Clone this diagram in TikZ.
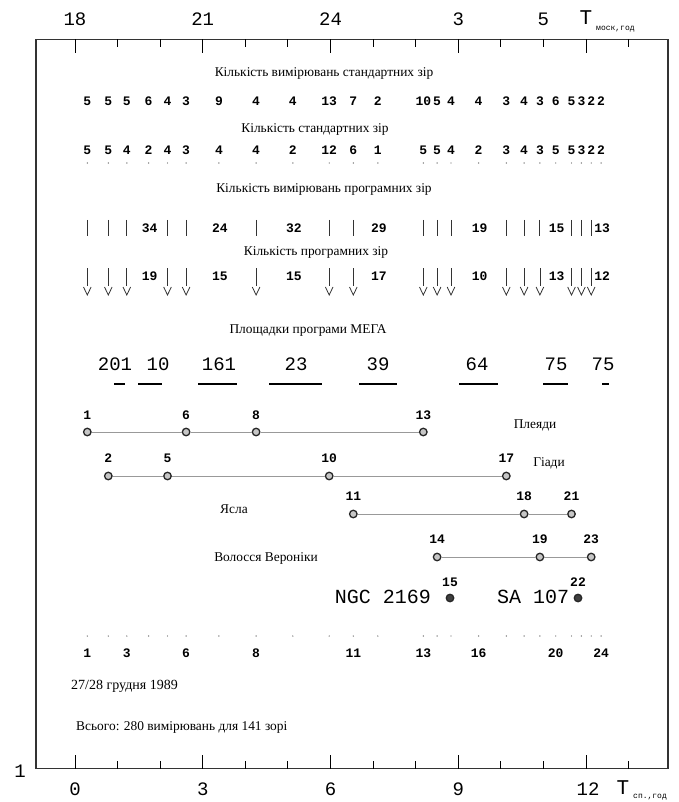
\documentclass[tikz,border=0pt]{standalone}
\usepackage{fontspec}
\setmainfont{Liberation Serif}
\newfontfamily\mono{Liberation Mono}
\begin{document}
\begin{tikzpicture}[x=1pt,y=-1pt,
  num/.style={font=\mono\bfseries\fontsize{13}{13}\selectfont, inner sep=0pt},
  big/.style={font=\mono\fontsize{19}{19}\selectfont, inner sep=0pt},
  ttl/.style={font=\fontsize{13.4}{13.4}\selectfont, inner sep=0pt},
  star/.style={circle, draw=black!85, line width=1.3pt, fill=gray!45, minimum size=7.5pt, inner sep=0pt},
  link/.style={draw=gray!80, line width=1pt},
  tick/.style={line width=0.9pt}]
\useasboundingbox (0,0) rectangle (678,802);
\def\X{{0,87.3,108.3,126.8,148.6,167.5,186.1,218.9,256.1,292.8,329.2,353.3,377.8,423.3,437.1,451.0,478.6,506.3,524.1,539.9,555.7,571.5,581.4,591.2,601.1}}
% frame
\draw[line width=1.2pt, draw=black!80] (36,39.5) rectangle (668,768.7);
% ticks
\foreach \k in {0,...,13} {
  \pgfmathsetmacro\tx{75+42.58*\k}
  \pgfmathtruncatemacro\m{mod(\k,3)}
  \ifnum\m=0
    \draw[tick] (\tx,39.5) -- (\tx,53);
    \draw[tick] (\tx,768.7) -- (\tx,755);
  \else
    \draw[tick] (\tx,39.5) -- (\tx,47);
    \draw[tick] (\tx,768.7) -- (\tx,761);
  \fi
}
% top axis labels
\node[big] (t18) at (75,19) {18};
\node[big] (t21) at (202.7,19) {21};
\node[big] (t24) at (330.5,19) {24};
\node[big] (t3) at (458.2,19) {3};
\node[big] (t5) at (543.4,19) {5};
\node[big,font=\mono\fontsize{21}{21}\selectfont] (tT) at (586,18) {T};
\node[anchor=west, inner sep=0pt, font=\mono\fontsize{8}{8}\selectfont] (tsub) at (596,29.5) {моск,год};
% bottom axis labels
\node[big] (b0) at (75,789) {0};
\node[big] (b3) at (202.7,789) {3};
\node[big] (b6) at (330.5,789) {6};
\node[big] (b9) at (458.2,789) {9};
\node[big] (b12) at (588,789) {12};
\node[big,font=\mono\fontsize{21}{21}\selectfont] (bT) at (623,788) {T};
\node[anchor=west, inner sep=0pt, font=\mono\fontsize{8}{8}\selectfont] (bsub) at (633,797.5) {сп.,год};
\node[big] (one) at (20,771) {1};
% titles
\node[ttl] (ttl1) at (324,73) {Кількість вимірювань стандартних зір};
\node[ttl] (ttl2) at (315,129) {Кількість стандартних зір};
\node[ttl] (ttl3) at (324,189) {Кількість вимірювань програмних зір};
\node[ttl] (ttl4) at (316,252) {Кількість програмних зір};
\node[ttl] (ttl5) at (308,331) {Площадки програми МЕГА};
% row 1
\foreach \v [count=\i] in {5,5,5,6,4,3,9,4,4,13,7,2,10,5,4,4,3,4,3,6,5,3,2,2} {
  \pgfmathsetmacro\xx{\X[\i]}
  \node[num] (ra\i) at (\xx,101) {\v};
}
% row 2
\foreach \v [count=\i] in {5,5,4,2,4,3,4,4,2,12,6,1,5,5,4,2,3,4,3,5,5,3,2,2} {
  \pgfmathsetmacro\xx{\X[\i]}
  \node[num] (rb\i) at (\xx,150) {\v};
  \fill[black!60] (\xx,163) circle (0.7pt);
  \fill[black!60] (\xx,636) circle (0.7pt);
}
% row 3 and row 4
\foreach \i in {1,2,3,5,6,8,10,11,13,14,15,17,18,19,21,22,23} {
  \pgfmathsetmacro\xx{\X[\i]}
  \draw[line width=1pt, black!80] (\xx,220) -- (\xx,236);
  \draw[line width=0.8pt, black!80] (\xx,268) -- (\xx,286);
  \draw[line width=0.8pt, black!80] (\xx-3.8,287) -- (\xx,295) -- (\xx+3.8,287);
}
\foreach \i/\v in {4/34,7/24,9/32,12/29,16/19,20/15,24/13} {
  \pgfmathsetmacro\xx{\X[\i]}
  \node[num] (rc\i) at (\xx+1,228) {\v};
}
\foreach \i/\v in {4/19,7/15,9/15,12/17,16/10,20/13,24/12} {
  \pgfmathsetmacro\xx{\X[\i]}
  \node[num] (rd\i) at (\xx+1,276) {\v};
}
% row 5 (MEGA areas)
\foreach \x/\v/\a/\b [count=\j] in {115/201/114/125, 158/10/138/162, 219/161/198/237, 296/23/269/322, 378/39/359/397, 477/64/459/498, 556/75/543/568, 603/75/602/609} {
  \node[big] (m\j) at (\x,364) {\v};
  \draw[line width=1.2pt] (\a,384) -- (\b,384);
}
% clusters
\foreach \i in {1,6,8,13} {\pgfmathsetmacro\xx{\X[\i]}
  \node[star] (p\i) at (\xx,432) {};
  \node[num] (pl\i) at (\xx,415) {\i};}
\draw[link] (p1) -- (p6) -- (p8) -- (p13);
\node[ttl] (plt) at (535,425) {Плеяди};
\foreach \i in {2,5,10,17} {\pgfmathsetmacro\xx{\X[\i]}
  \node[star] (h\i) at (\xx,476) {};
  \node[num] (hl\i) at (\xx,458) {\i};}
\draw[link] (h2) -- (h5) -- (h10) -- (h17);
\node[ttl] (hlt) at (549,463) {Гіади};
\foreach \i in {11,18,21} {\pgfmathsetmacro\xx{\X[\i]}
  \node[star] (y\i) at (\xx,514) {};
  \node[num] (yl\i) at (\xx,496) {\i};}
\draw[link] (y11) -- (y18) -- (y21);
\node[ttl] (ylt) at (234,509) {Ясла};
\foreach \i in {14,19,23} {\pgfmathsetmacro\xx{\X[\i]}
  \node[star] (v\i) at (\xx,557) {};
  \node[num] (vl\i) at (\xx,539) {\i};}
\draw[link] (v14) -- (v19) -- (v23);
\node[ttl] (vlt) at (266,558) {Волосся Вероніки};
% NGC / SA
\node[star, fill=black!75] (n15) at (450,598) {};
\node[num] (nl15) at (450,582) {15};
\node[big,font=\mono\fontsize{20}{20}\selectfont] (ngc) at (383,597) {NGC 2169};
\node[star, fill=black!75] (s22) at (578,598) {};
\node[num] (sl22) at (578,582) {22};
\node[big,font=\mono\fontsize{20}{20}\selectfont] (sa) at (533,597) {SA 107};
% bottom numbering
\foreach \i in {1,3,6,8,11,13,16,20,24} {\pgfmathsetmacro\xx{\X[\i]}
  \node[num] (bn\i) at (\xx,653) {\i};}
% notes
\node[ttl, anchor=west, font=\fontsize{14}{14}\selectfont] (date) at (71,686) {27/28 грудня 1989};
\node[ttl, anchor=west] (tot) at (76,727) {Всього: 280 вимірювань для 141 зорі};
\end{tikzpicture}
\end{document}
